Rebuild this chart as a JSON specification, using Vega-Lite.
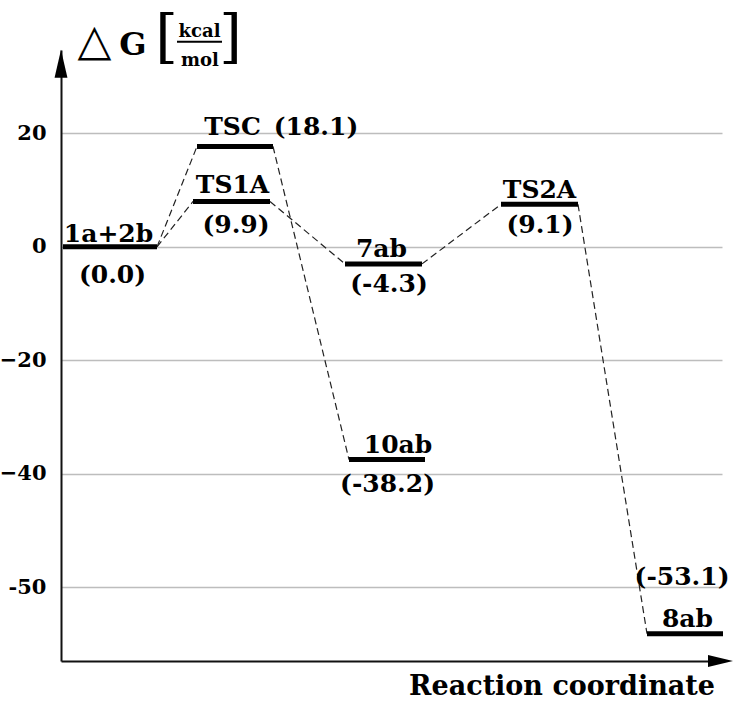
{
  "$schema": "https://vega.github.io/schema/vega-lite/v6.json",
  "width": 661,
  "height": 611,
  "autosize": {"type": "none"},
  "padding": {"left": 61, "top": 50, "right": 12, "bottom": 41},
  "background": "white",
  "config": {"view": {"stroke": null}},
  "datasets": {
    "levels": [
      {"state": "1a+2b", "x0": 2, "x1": 96, "y": 0},
      {"state": "TSC", "x0": 136, "x1": 212, "y": 17.7},
      {"state": "TS1A", "x0": 132, "x1": 209, "y": 8.0},
      {"state": "7ab", "x0": 284, "x1": 361, "y": -3.0},
      {"state": "10ab", "x0": 288, "x1": 364, "y": -37.5},
      {"state": "TS2A", "x0": 440, "x1": 517, "y": 7.5},
      {"state": "8ab", "x0": 586, "x1": 662, "y": -68.2}
    ],
    "links": [
      {"seg": "1a+2b-TSC", "x": 96, "y": 0},
      {"seg": "1a+2b-TSC", "x": 136, "y": 17.7},
      {"seg": "1a+2b-TS1A", "x": 96, "y": 0},
      {"seg": "1a+2b-TS1A", "x": 132, "y": 8.0},
      {"seg": "TS1A-7ab", "x": 209, "y": 8.0},
      {"seg": "TS1A-7ab", "x": 284, "y": -3.0},
      {"seg": "TSC-10ab", "x": 212, "y": 17.7},
      {"seg": "TSC-10ab", "x": 288, "y": -37.5},
      {"seg": "7ab-TS2A", "x": 361, "y": -3.0},
      {"seg": "7ab-TS2A", "x": 440, "y": 7.5},
      {"seg": "TS2A-8ab", "x": 517, "y": 7.5},
      {"seg": "TS2A-8ab", "x": 586, "y": -68.2}
    ],
    "labels": [
      {"label": "TSC", "x": 171.5, "y": 19.74},
      {"label": "(18.1)", "x": 255, "y": 19.74},
      {"label": "TS1A", "x": 171.5, "y": 9.47},
      {"label": "(9.9)", "x": 175, "y": 2.47},
      {"label": "1a+2b", "x": 47.5, "y": 0.93},
      {"label": "(0.0)", "x": 51.5, "y": -6.35},
      {"label": "TS2A", "x": 478.5, "y": 8.64},
      {"label": "(9.1)", "x": 479, "y": 2.47},
      {"label": "7ab", "x": 320.5, "y": -1.71},
      {"label": "(-4.3)", "x": 328, "y": -7.88},
      {"label": "10ab", "x": 337, "y": -36.31},
      {"label": "(-38.2)", "x": 326.5, "y": -43.13},
      {"label": "(-53.1)", "x": 621, "y": -59.58},
      {"label": "8ab", "x": 626.5, "y": -66.93}
    ]
  },
  "layer": [
    {
      "data": {"name": "links"},
      "mark": {"type": "line", "color": "#222222", "strokeWidth": 1.2, "strokeDash": [7, 4]},
      "encoding": {
        "x": {"field": "x", "type": "quantitative", "scale": {"domain": [0, 661], "nice": false, "zero": false},
              "axis": {"domain": true, "domainColor": "#111111", "domainWidth": 2, "ticks": false, "labels": false, "grid": false, "title": null}},
        "y": {"field": "y", "type": "quantitative", "scale": {"domain": [-73, 34.7], "nice": false, "zero": false},
              "axis": {"values": [20, 0, -20, -40, -60], "labelExpr": "datum.value == -60 ? '-50' : datum.label",
                       "domain": true, "domainColor": "#111111", "domainWidth": 2, "ticks": false,
                       "grid": true, "gridColor": "#bdbdbd", "gridWidth": 1.5,
                       "labelFont": "DejaVu Serif", "labelFontWeight": "bold", "labelFontSize": 21,
                       "labelColor": "black", "labelPadding": 15, "title": null}},
        "detail": {"field": "seg", "type": "nominal"}
      }
    },
    {
      "data": {"name": "levels"},
      "mark": {"type": "rule", "color": "black", "strokeWidth": 5},
      "encoding": {
        "x": {"field": "x0", "type": "quantitative"},
        "x2": {"field": "x1"},
        "y": {"field": "y", "type": "quantitative"}
      }
    },
    {
      "data": {"name": "labels"},
      "mark": {"type": "text", "font": "DejaVu Serif", "fontWeight": "bold", "fontSize": 25, "align": "center", "baseline": "alphabetic", "color": "black"},
      "encoding": {
        "x": {"field": "x", "type": "quantitative"},
        "y": {"field": "y", "type": "quantitative"},
        "text": {"field": "label", "type": "nominal"}
      }
    },
    {
      "data": {"values": [{"axis": "energy", "x": 0, "y": 32.26}]},
      "mark": {"type": "point", "shape": "M0,-1L0.46,1L-0.46,1Z", "filled": true, "color": "black", "opacity": 1, "size": 784, "strokeWidth": 0},
      "encoding": {
        "x": {"field": "x", "type": "quantitative"},
        "y": {"field": "y", "type": "quantitative"}
      }
    },
    {
      "data": {"values": [{"axis": "reaction", "x": 659.5, "y": -73}]},
      "mark": {"type": "point", "shape": "M1,0L-1,-0.48L-1,0.48Z", "filled": true, "color": "black", "opacity": 1, "size": 625, "strokeWidth": 0},
      "encoding": {
        "x": {"field": "x", "type": "quantitative"},
        "y": {"field": "y", "type": "quantitative"}
      }
    },
    {
      "data": {"values": [{"t": "Reaction coordinate", "x": 654, "y": -79.0}]},
      "mark": {"type": "text", "font": "DejaVu Serif", "fontWeight": "bold", "fontSize": 27, "align": "right", "baseline": "alphabetic", "color": "black"},
      "encoding": {
        "x": {"field": "x", "type": "quantitative"},
        "y": {"field": "y", "type": "quantitative"},
        "text": {"field": "t", "type": "nominal"}
      }
    },
    {
      "data": {"values": [{"t": "△", "x": 33.5, "y": 33.84}]},
      "mark": {"type": "text", "font": "DejaVu Sans", "fontSize": 44, "align": "center", "baseline": "alphabetic", "color": "black"},
      "encoding": {
        "x": {"field": "x", "type": "quantitative"},
        "y": {"field": "y", "type": "quantitative"},
        "text": {"field": "t", "type": "nominal"}
      }
    },
    {
      "data": {"values": [{"t": "G", "x": 72, "y": 33.84}]},
      "mark": {"type": "text", "font": "DejaVu Serif", "fontWeight": "bold", "fontSize": 32, "align": "center", "baseline": "alphabetic", "color": "black"},
      "encoding": {
        "x": {"field": "x", "type": "quantitative"},
        "y": {"field": "y", "type": "quantitative"},
        "text": {"field": "t", "type": "nominal"}
      }
    },
    {
      "data": {"values": [{"t": "[", "x": 105.5, "y": 33.6}, {"t": "]", "x": 169.5, "y": 33.6}]},
      "mark": {"type": "text", "font": "DejaVu Serif", "fontSize": 58, "align": "center", "baseline": "alphabetic", "color": "black"},
      "encoding": {
        "x": {"field": "x", "type": "quantitative"},
        "y": {"field": "y", "type": "quantitative"},
        "text": {"field": "t", "type": "nominal"}
      }
    },
    {
      "data": {"values": [{"t": "kcal", "x": 138.5, "y": 37.02}, {"t": "mol", "x": 139, "y": 31.91}]},
      "mark": {"type": "text", "font": "DejaVu Serif", "fontWeight": "bold", "fontSize": 18, "align": "center", "baseline": "alphabetic", "color": "black"},
      "encoding": {
        "x": {"field": "x", "type": "quantitative"},
        "y": {"field": "y", "type": "quantitative"},
        "text": {"field": "t", "type": "nominal"}
      }
    },
    {
      "data": {"values": [{"x0": 116, "x1": 161, "y": 36.14}]},
      "mark": {"type": "rule", "color": "black", "strokeWidth": 2},
      "encoding": {
        "x": {"field": "x0", "type": "quantitative"},
        "x2": {"field": "x1"},
        "y": {"field": "y", "type": "quantitative"}
      }
    }
  ]
}
